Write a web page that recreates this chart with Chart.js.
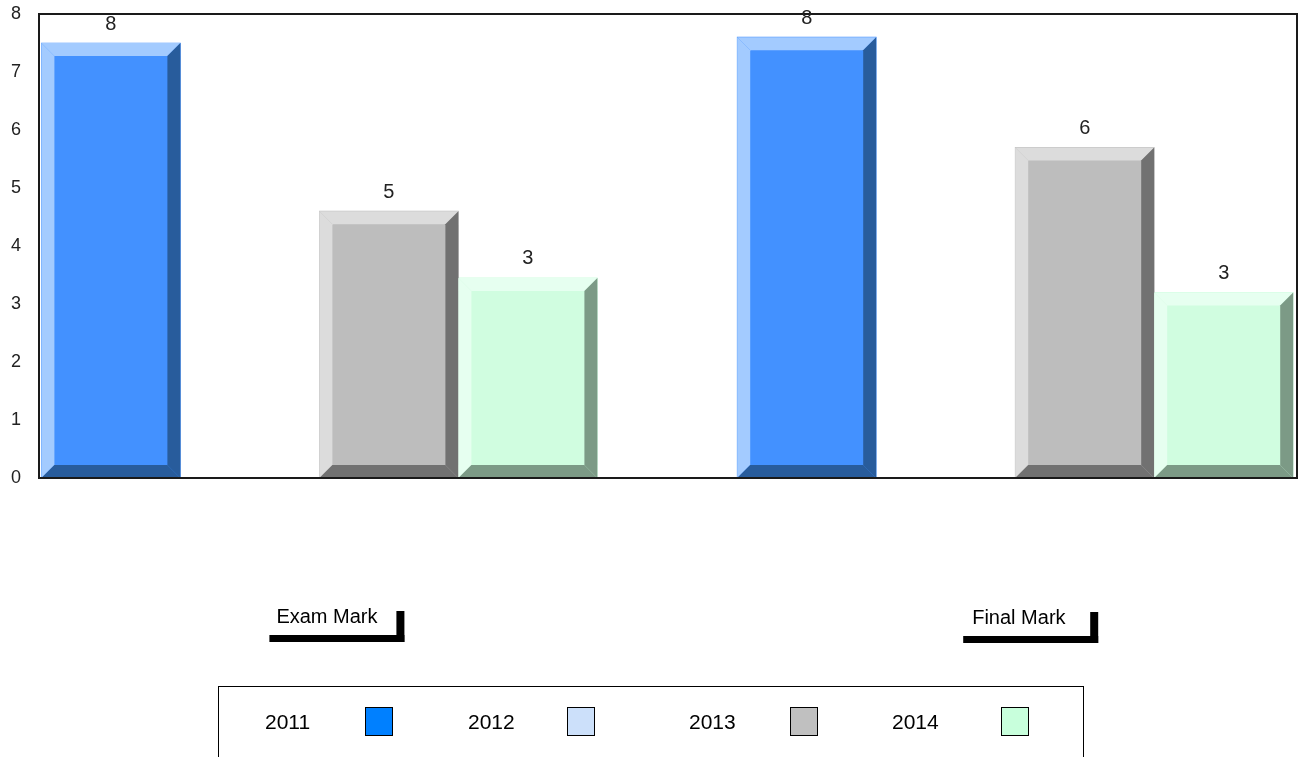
<!DOCTYPE html>
<html>
<head>
<meta charset="utf-8">
<script src="https://cdn.jsdelivr.net/npm/chart.js@4/dist/chart.umd.min.js"></script>
<style>
  body { margin: 0; background: #fff; }
  #wrap { width: 1302px; height: 757px; }
</style>
</head>
<body>
<div id="wrap"><canvas id="marksChart" width="1302" height="757"></canvas></div>
<script>
// data
const categories = ['Exam Mark', 'Final Mark'];
const years = ['2011', '2012', '2013', '2014'];
const values2011 = [7.5, 7.6];
const values2012 = [0, 0];
const values2013 = [4.6, 5.7];
const values2014 = [3.45, 3.2];
const yTicks = [0, 1, 2, 3, 4, 5, 6, 7, 8];

const seriesValues = [values2011, values2012, values2013, values2014];

// face / light bevel / dark bevel / legend swatch
const faceColors = ['#4391ff', '#cce0fa', '#bdbdbd', '#d0fde0'];
const lightColors = ['#a3cbff', '#e4efff', '#dcdcdc', '#e6fff0'];
const darkColors = ['#285c9c', '#8fa0b8', '#717171', '#7c9a86'];
const legendColors = ['#0080ff', '#cce0fa', '#c0c0c0', '#c8ffdc'];

const FONT = '"Liberation Sans", Arial, sans-serif';

const datasets = years.map((year, s) => ({
    label: year,
    data: categories.map((c, i) => ({ x: i, y: seriesValues[s][i] })),
    backgroundColor: faceColors[s],
    borderWidth: 0,
    barThickness: 139
}));

// Draw the bevelled edges on top of each bar
const bevelPlugin = {
    id: 'bevel',
    afterDatasetsDraw(chart) {
        const ctx = chart.ctx;
        chart.data.datasets.forEach((ds, s) => {
            const meta = chart.getDatasetMeta(s);
            meta.data.forEach(bar => {
                const l = bar.x - bar.width / 2;
                const r = bar.x + bar.width / 2;
                const t = bar.y;
                const b = bar.base;
                if (b - t < 1) return;
                const e = 13;
                const poly = (pts, color) => {
                    ctx.beginPath();
                    ctx.moveTo(pts[0][0], pts[0][1]);
                    pts.slice(1).forEach(p => ctx.lineTo(p[0], p[1]));
                    ctx.closePath();
                    ctx.fillStyle = color;
                    ctx.fill();
                };
                ctx.save();
                poly([[l, t], [r, t], [r - e, t + e], [l + e, t + e]], lightColors[s]);
                poly([[l, t], [l + e, t + e], [l + e, b - e], [l, b]], lightColors[s]);
                poly([[r, t], [r, b], [r - e, b - e], [r - e, t + e]], darkColors[s]);
                poly([[l, b], [r, b], [r - e, b - e], [l + e, b - e]], darkColors[s]);
                ctx.restore();
            });
        });
    }
};

// Value labels, the frame, category labels and the boxed legend
const decorPlugin = {
    id: 'decor',
    afterDraw(chart) {
        const ctx = chart.ctx;
        const area = chart.chartArea;
        const xScale = chart.scales.x;
        ctx.save();

        // frame
        ctx.strokeStyle = '#1a1a1a';
        ctx.lineWidth = 2;
        ctx.strokeRect(area.left, area.top, area.right - area.left, area.bottom - area.top);

        // rounded values above the bars
        ctx.fillStyle = '#222';
        ctx.font = '20px ' + FONT;
        ctx.textAlign = 'center';
        ctx.textBaseline = 'middle';
        chart.data.datasets.forEach((ds, s) => {
            chart.getDatasetMeta(s).data.forEach((bar, i) => {
                const v = seriesValues[s][i];
                if (!v) return;
                ctx.fillText(String(Math.round(v)), bar.x, bar.y - 19);
            });
        });

        // category labels with their bracket marks
        ctx.textAlign = 'left';
        ctx.textBaseline = 'alphabetic';
        ctx.font = '20px ' + FONT;
        ctx.fillStyle = '#000';
        categories.forEach((cat, i) => {
            const px = xScale.getPixelForValue(i);
            const y0 = 623 + i;
            ctx.fillText(cat, px - 43, y0);
            ctx.fillRect(px - 50 - 2 * i, y0 + 12, 135, 7);
            ctx.fillRect(px + 77 - 2 * i, y0 - 12, 8, 31);
        });

        // legend box
        ctx.strokeStyle = '#000';
        ctx.lineWidth = 1;
        ctx.strokeRect(218.5, 686.5, 865, 100);
        const textX = [265, 468, 689, 892];
        const swatchX = [365, 567, 790, 1001];
        ctx.font = '21px ' + FONT;
        years.forEach((year, s) => {
            ctx.fillStyle = '#000';
            ctx.fillText(year, textX[s], 729);
            ctx.fillStyle = legendColors[s];
            ctx.fillRect(swatchX[s], 707, 28, 29);
            ctx.strokeRect(swatchX[s] + 0.5, 707.5, 27, 28);
        });
        ctx.restore();
    }
};

new Chart(document.getElementById('marksChart'), {
    type: 'bar',
    data: { datasets: datasets },
    options: {
        responsive: false,
        animation: false,
        layout: { padding: { top: 14, right: 5, bottom: 279, left: 0 } },
        plugins: { legend: { display: false }, tooltip: { enabled: false } },
        scales: {
            x: {
                type: 'linear',
                offset: false,
                min: -0.403,
                max: 1.405,
                display: false
            },
            y: {
                min: 0,
                max: 8,
                afterFit: scale => {
                    scale.width = 39;
                    scale.paddingTop = 0;
                    scale.paddingBottom = 0;
                },
                afterBuildTicks: scale => { scale.ticks = yTicks.map(v => ({ value: v })); },
                grid: { display: false, drawTicks: false },
                border: { display: false },
                ticks: {
                    padding: 18,
                    color: '#222',
                    font: { size: 18, family: FONT }
                }
            }
        }
    },
    plugins: [bevelPlugin, decorPlugin]
});
</script>
</body>
</html>
